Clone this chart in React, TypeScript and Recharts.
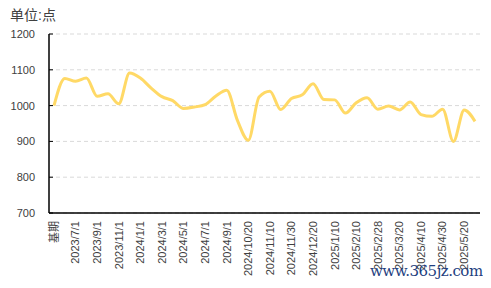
import { LineChart, Line, XAxis, YAxis, CartesianGrid } from 'recharts';

// 40 periods, every second one is labelled on the axis
const periods = [
  '基期', '2023/6/1', '2023/7/1', '2023/8/1', '2023/9/1', '2023/10/1', '2023/11/1', '2023/12/1',
  '2024/1/1', '2024/2/1', '2024/3/1', '2024/4/1', '2024/5/1', '2024/6/1', '2024/7/1', '2024/8/1',
  '2024/9/1', '2024/10/1', '2024/10/20', '2024/10/31', '2024/11/10', '2024/11/20', '2024/11/30',
  '2024/12/10', '2024/12/20', '2024/12/31', '2025/1/10', '2025/1/20', '2025/2/10', '2025/2/20',
  '2025/2/28', '2025/3/10', '2025/3/20', '2025/3/31', '2025/4/10', '2025/4/20', '2025/4/30',
  '2025/5/10', '2025/5/20', '2025/5/30',
];

const indexValues = [
  1000, 1076, 1068, 1077, 1026, 1033, 1005, 1091, 1077, 1049,
  1025, 1014, 992, 996, 1003, 1027, 1043, 958, 903, 1024,
  1040, 989, 1020, 1030, 1061, 1017, 1016, 979, 1008, 1022,
  990, 999, 988, 1010, 975, 970, 990, 900, 988, 956,
];

const yTicks = [700, 800, 900, 1000, 1100, 1200];

const data = periods.map((period, i) => ({ period, value: indexValues[i] }));

const FONT = "'Liberation Sans', 'Noto Sans CJK SC', sans-serif";

function PeriodTick({ x, y, payload }: any) {
  return (
    <text
      x={x}
      y={y}
      transform={`rotate(-90, ${x}, ${y})`}
      textAnchor="end"
      dy="0.35em"
      fontSize={11}
      fill="#404040"
      fontFamily={FONT}
    >
      {payload.value}
    </text>
  );
}

export default function App() {
  return (
    <div style={{ position: 'relative', width: 491, height: 288, margin: -8, background: '#fff' }}>
      <div
        style={{
          position: 'absolute',
          left: 10,
          top: 4,
          fontSize: 14,
          color: '#404040',
          fontFamily: FONT,
        }}
      >
        单位:点
      </div>
      <LineChart
        width={491}
        height={288}
        data={data}
        margin={{ top: 34, right: 11, bottom: 0, left: 0 }}
      >
        <CartesianGrid vertical={false} stroke="#d9d9d9" strokeDasharray="4 3" />
        <XAxis
          dataKey="period"
          interval={1}
          height={75}
          padding={{ left: 5, right: 5 }}
          axisLine={{ stroke: '#000', strokeWidth: 1.5 }}
          tickLine={false}
          tick={<PeriodTick />}
        />
        <YAxis
          domain={[700, 1200]}
          ticks={yTicks}
          width={49}
          axisLine={{ stroke: '#000', strokeWidth: 1.5 }}
          tickLine={{ stroke: '#000' }}
          tickSize={-4}
          tickMargin={18}
          tick={{ fontSize: 11, fill: '#404040', fontFamily: FONT }}
        />
        <Line
          type="monotone"
          dataKey="value"
          stroke="#ffd966"
          strokeWidth={3}
          dot={false}
          isAnimationActive={false}
        />
      </LineChart>
      <div
        style={{
          position: 'absolute',
          left: 370,
          top: 262,
          fontSize: 15,
          color: '#1f3f7f',
          fontFamily: "'DejaVu Serif', serif",
          letterSpacing: -0.5,
        }}
      >
        www.365jz.com
      </div>
    </div>
  );
}
